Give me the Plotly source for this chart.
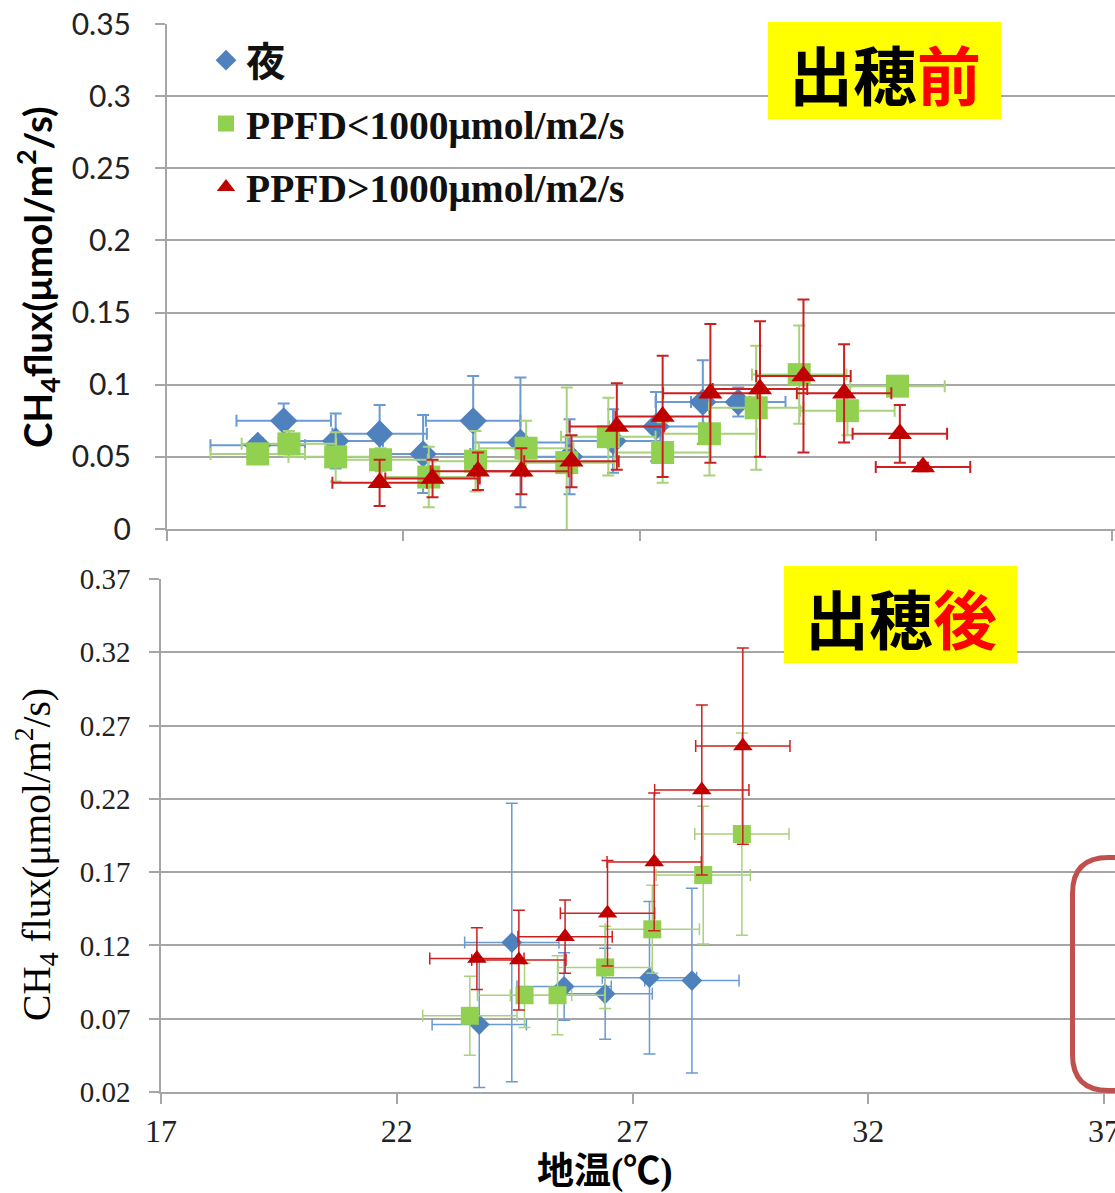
import plotly.graph_objects as go

# ---------------- data ----------------
# Top panel: before heading (出穂前)
pre_night_x = [18.92, 19.47, 20.57, 21.50, 22.42, 23.48, 24.48, 25.52, 26.44, 27.35, 28.34, 29.09]
pre_night_y = [0.058, 0.075, 0.061, 0.066, 0.052, 0.075, 0.060, 0.050, 0.061, 0.071, 0.088, 0.088]
pre_night_ey = [0.005, 0.012, 0.019, 0.020, 0.027, 0.031, 0.045, 0.026, 0.022, 0.024, 0.029, 0.010]
pre_night_ex = [1.0, 1.0, 1.0, 1.0, 1.0, 1.0, 1.0, 1.0, 1.0, 1.0, 1.0, 1.0]

pre_low_x = [18.92, 19.58, 20.57, 21.52, 22.54, 23.53, 24.60, 25.46, 26.34, 27.49, 28.48, 29.47, 30.38, 31.40, 32.46]
pre_low_y = [0.052, 0.059, 0.050, 0.048, 0.036, 0.047, 0.056, 0.046, 0.064, 0.053, 0.066, 0.084, 0.107, 0.082, 0.099]
pre_low_ey = [0.005, 0.009, 0.017, 0.008, 0.021, 0.021, 0.019, 0.052, 0.027, 0.021, 0.029, 0.043, 0.034, 0.017, 0.004]
pre_low_ex = [1.0, 1.0, 1.0, 1.0, 1.0, 1.0, 1.0, 1.0, 1.0, 1.0, 1.0, 1.0, 1.0, 1.0, 1.0]

pre_high_x = [21.50, 22.62, 23.58, 24.50, 25.56, 26.52, 27.49, 28.50, 29.55, 30.47, 31.33, 32.51, 33.00]
pre_high_y = [0.032, 0.035, 0.040, 0.040, 0.047, 0.071, 0.078, 0.094, 0.097, 0.106, 0.094, 0.066, 0.043]
pre_high_ey = [0.016, 0.013, 0.013, 0.016, 0.018, 0.030, 0.042, 0.048, 0.047, 0.053, 0.034, 0.020, 0.003]
pre_high_ex = [1.0, 1.0, 1.0, 1.0, 1.0, 1.0, 1.0, 1.0, 1.0, 1.0, 1.0, 1.0, 1.0]

# Bottom panel: after heading (出穂後)
post_night_x = [23.75, 24.44, 25.55, 26.42, 27.36, 28.26]
post_night_y = [0.066, 0.122, 0.092, 0.087, 0.098, 0.096]
post_night_ey = [0.043, 0.095, 0.023, 0.031, 0.052, 0.063]
post_night_ex = [1.0, 1.0, 1.0, 1.0, 1.0, 1.0]

post_low_x = [23.55, 24.71, 25.41, 26.42, 27.42, 28.50, 29.32]
post_low_y = [0.072, 0.086, 0.086, 0.105, 0.131, 0.168, 0.196]
post_low_ey = [0.027, 0.022, 0.027, 0.028, 0.030, 0.047, 0.069]
post_low_ex = [1.0, 1.0, 1.0, 1.0, 1.0, 1.0, 1.0]

post_high_x = [23.70, 24.59, 25.57, 26.47, 27.46, 28.47, 29.34]
post_high_y = [0.111, 0.110, 0.126, 0.142, 0.177, 0.226, 0.256]
post_high_ey = [0.021, 0.034, 0.025, 0.036, 0.047, 0.058, 0.067]
post_high_ex = [1.0, 1.0, 1.0, 1.0, 1.0, 1.0, 1.0]

series_names = ["夜", "PPFD<1000μmol/m2/s", "PPFD>1000μmol/m2/s"]

top_ytick_vals = [0, 0.05, 0.1, 0.15, 0.2, 0.25, 0.3, 0.35]
top_ytick_text = ["0", "0.05", "0.1", "0.15", "0.2", "0.25", "0.3", "0.35"]
bot_ytick_vals = [0.02, 0.07, 0.12, 0.17, 0.22, 0.27, 0.32, 0.37]
bot_ytick_text = ["0.02", "0.07", "0.12", "0.17", "0.22", "0.27", "0.32", "0.37"]
xtick_vals = [17, 22, 27, 32, 37]
xtick_text = ["17", "22", "27", "32", "37"]

# ---------------- styling ----------------
W, H = 1115, 1193
def px(x):
    return x / W
def py(y):
    return 1 - y / H

BLUE, GREEN, RED = "#4F81BD", "#92D050", "#C00000"
BLUE_E, GREEN_E, RED_E = "#6A9AD3", "#A9D27E", "#CC2020"
GRID = "#A6A6A6"

fig = go.Figure()

def add_series(x, y, ex, ey, name, symbol, color, ecolor, size, xa, ya, showlegend, thick, cap):
    fig.add_trace(go.Scatter(
        x=x, y=y, mode="markers", name=name, legendgroup=name, showlegend=showlegend,
        xaxis=xa, yaxis=ya,
        marker=dict(symbol=symbol, color=color, size=size, line=dict(width=0)),
        error_y=dict(type="data", array=ey, color=ecolor, thickness=thick, width=cap),
        error_x=dict(type="data", array=ex, color=ecolor, thickness=thick, width=cap),
    ))

add_series(pre_night_x, pre_night_y, pre_night_ex, pre_night_ey, series_names[0], "diamond", BLUE, BLUE_E, 21, "x", "y", True, 2, 6)
add_series(pre_low_x, pre_low_y, pre_low_ex, pre_low_ey, series_names[1], "square", GREEN, GREEN_E, 23, "x", "y", True, 2, 6)
add_series(pre_high_x, pre_high_y, pre_high_ex, pre_high_ey, series_names[2], "triangle-up", RED, RED_E, 21, "x", "y", True, 2, 6)

add_series(post_night_x, post_night_y, post_night_ex, post_night_ey, series_names[0], "diamond", BLUE, BLUE_E, 16, "x2", "y2", False, 1.5, 6)
add_series(post_low_x, post_low_y, post_low_ex, post_low_ey, series_names[1], "square", GREEN, GREEN_E, 18, "x2", "y2", False, 1.5, 6)
add_series(post_high_x, post_high_y, post_high_ex, post_high_ey, series_names[2], "triangle-up", RED, RED_E, 17, "x2", "y2", False, 1.5, 6)

sans = "Lato, Open Sans, sans-serif"
serif = "Liberation Serif, Times New Roman, serif"

fig.update_layout(
    width=W, height=H, autosize=False,
    margin=dict(l=0, r=0, t=0, b=0, pad=0),
    paper_bgcolor="white", plot_bgcolor="white",
    xaxis=dict(domain=[px(167), 1], range=[17, 17 + (W - 167) / 47.25], anchor="y", automargin=False,
               showline=True, linecolor=GRID, linewidth=2, ticks="outside", ticklen=10,
               tickwidth=2, tickcolor=GRID, tickvals=xtick_vals, showticklabels=False,
               showgrid=False, zeroline=False),
    yaxis=dict(domain=[py(529), py(24)], range=[0, 0.35], anchor="x", automargin=False,
               showline=True, linecolor=GRID, linewidth=2, ticks="outside", ticklen=10,
               tickwidth=2, tickcolor=GRID, showgrid=True, gridcolor=GRID, gridwidth=2,
               tickvals=top_ytick_vals, ticktext=top_ytick_text, zeroline=False,
               tickfont=dict(family=sans, size=30, color="#222"), ticklabelstandoff=18),
    xaxis2=dict(domain=[px(161), 1], range=[17, 17 + (W - 161) / 47.15], anchor="y2", automargin=False,
                showline=True, linecolor=GRID, linewidth=1.5, ticks="outside", ticklen=10,
                tickwidth=1.5, tickcolor=GRID, tickvals=xtick_vals, ticktext=xtick_text,
                showgrid=False, zeroline=False, ticklabeloverflow="allow",
                tickfont=dict(family=serif, size=32, color="#222"), ticklabelstandoff=0),
    yaxis2=dict(domain=[py(1092), py(579)], range=[0.02, 0.37], anchor="x2", automargin=False,
                showline=True, linecolor=GRID, linewidth=1.5, ticks="outside", ticklen=10,
                tickwidth=1.5, tickcolor=GRID, showgrid=True, gridcolor=GRID, gridwidth=1.5,
                tickvals=bot_ytick_vals, ticktext=bot_ytick_text, zeroline=False,
                tickfont=dict(family=serif, size=29, color="#222"), ticklabelstandoff=13),
    legend=dict(x=px(206), y=py(28), xanchor="left", yanchor="top",
                bgcolor="rgba(0,0,0,0)", traceorder="grouped", tracegroupgap=9,
                font=dict(family="Liberation Serif, Noto Sans CJK JP", size=39.5, color="#111", weight="bold")),
    showlegend=True,
)

# yellow label boxes
fig.add_shape(type="rect", xref="paper", yref="paper", x0=px(768), x1=px(1001), y0=py(119), y1=py(22),
              fillcolor="#FFFF00", line=dict(width=0), layer="above")
fig.add_shape(type="rect", xref="paper", yref="paper", x0=px(784), x1=px(1017), y0=py(663), y1=py(566),
              fillcolor="#FFFF00", line=dict(width=0), layer="above")
cjk = "Noto Sans CJK JP"
fig.add_annotation(xref="paper", yref="paper", x=px(885), y=py(72), xanchor="center", yanchor="middle",
                   showarrow=False, text="出穂<span style='color:#FF0000'>前</span>",
                   font=dict(family=cjk, size=64, color="#000", weight="bold"))
fig.add_annotation(xref="paper", yref="paper", x=px(901), y=py(616), xanchor="center", yanchor="middle",
                   showarrow=False, text="出穂<span style='color:#FF0000'>後</span>",
                   font=dict(family=cjk, size=64, color="#000", weight="bold"))

# partially visible rounded frame at right
r = 36
xl, yt, yb, xr = 1072.5, 857.5, 1090.5, 1250
path = (f"M {px(xl)},{py(yt + r)} L {px(xl)},{py(yb - r)} "
        f"Q {px(xl)},{py(yb)} {px(xl + r)},{py(yb)} L {px(xr)},{py(yb)} "
        f"L {px(xr)},{py(yt)} L {px(xl + r)},{py(yt)} Q {px(xl)},{py(yt)} {px(xl)},{py(yt + r)} Z")
fig.add_shape(type="path", xref="paper", yref="paper", path=path,
              line=dict(color="#C0504D", width=5), fillcolor="rgba(0,0,0,0)", layer="above")

# axis titles
fig.add_annotation(xref="paper", yref="paper", x=px(37), y=py(277), xanchor="center", yanchor="middle",
                   showarrow=False, textangle=-90,
                   text="CH<sub>4</sub>flux(μmol/m<sup>2</sup>/s)",
                   font=dict(family=sans, size=38.5, color="#000", weight="bold"))
fig.add_annotation(xref="paper", yref="paper", x=px(36), y=py(855), xanchor="center", yanchor="middle",
                   showarrow=False, textangle=-90,
                   text="CH<sub>4</sub> flux(μmol/m<sup>2</sup>/s)",
                   font=dict(family=serif, size=39.5, color="#000"))
fig.add_annotation(xref="paper", yref="paper", x=px(605), y=py(1172), xanchor="center", yanchor="middle",
                   showarrow=False, text="地温(℃)",
                   font=dict(family="Liberation Serif, Noto Sans CJK JP", size=37, color="#000", weight="bold"))

fig.write_html("out.html")
